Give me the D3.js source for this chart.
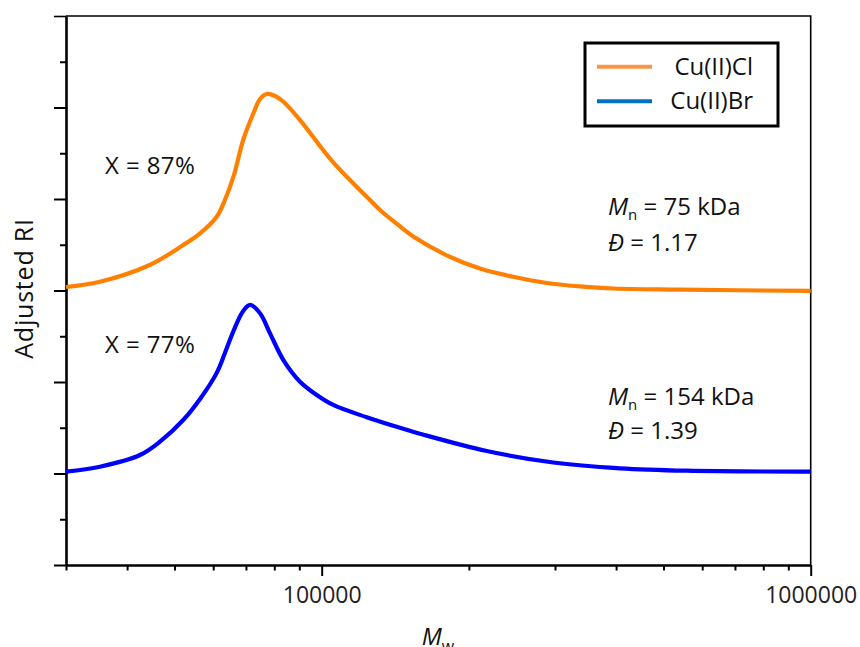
<!DOCTYPE html>
<html><head><meta charset="utf-8">
<script src="https://cdn.jsdelivr.net/npm/d3@7"></script>
<style>
html,body{margin:0;padding:0;background:#fff;}
text{font-family:"Open Sans","Noto Sans",sans-serif;}
</style></head>
<body><svg id="c" width="860" height="647"></svg>
<script>
// ---- data ----
const seriesNames = ["Cu(II)Cl", "Cu(II)Br"];
const clMw = [30000, 35200, 44500, 52100, 56400, 61000, 63400, 66000, 69100, 72500, 74800, 77200, 80300, 83500, 90300, 105600, 123600, 131600, 142300, 153900, 180100, 210700, 246500, 288500, 337500, 394800, 540400, 1000000];
const clRI = [3.038, 3.096, 3.279, 3.497, 3.625, 3.807, 3.989, 4.244, 4.645, 4.937, 5.093, 5.148, 5.126, 5.063, 4.863, 4.400, 4.025, 3.880, 3.730, 3.590, 3.385, 3.240, 3.150, 3.082, 3.045, 3.022, 3.010, 2.995];
const brMw = [30000, 35200, 42500, 46700, 52100, 56400, 61000, 63400, 66000, 69100, 71400, 74800, 78400, 83500, 90300, 97700, 105600, 123600, 144600, 160900, 217500, 297600, 407400, 557700, 1000000];
const brRI = [1.020, 1.074, 1.202, 1.348, 1.585, 1.815, 2.100, 2.317, 2.557, 2.776, 2.842, 2.751, 2.532, 2.240, 2.003, 1.858, 1.749, 1.615, 1.499, 1.426, 1.246, 1.120, 1.057, 1.031, 1.020];
const xMajorTicks = [100000, 1000000];
const xMinorTicks = [30000, 40000, 50000, 60000, 70000, 80000, 90000, 200000, 300000, 400000, 500000, 600000, 700000, 800000, 900000];
const yMajorTicks = [0, 1, 2, 3, 4, 5, 6];
const yMinorTicks = [0.5, 1.5, 2.5, 3.5, 4.5, 5.5];
const xDomain = [30000, 1000000];
const yDomain = [0, 6];

// ---- layout ----
const L = 66, R = 810.7, T = 16, B = 565;
const svg = d3.select("#c");
const x = d3.scaleLog().domain(xDomain).range([L, R]);
const y = d3.scaleLinear().domain(yDomain).range([B, T]);

// frame top/right
svg.append("path").attr("d", `M${L},${T}H${R}V${B}`).attr("fill","none").attr("stroke","#000").attr("stroke-width",1.6);

// x axis
const gx = svg.append("g").attr("transform", `translate(0,${B})`);
gx.call(d3.axisBottom(x).tickValues(xMinorTicks).tickSize(5.5).tickSizeOuter(0).tickFormat(""));
const gx2 = svg.append("g").attr("transform", `translate(0,${B})`);
gx2.call(d3.axisBottom(x).tickValues(xMajorTicks).tickSize(11).tickSizeOuter(0).tickPadding(10.5).tickFormat(d3.format("d")));
[gx, gx2].forEach(g => {
  g.select(".domain").attr("stroke-width", 2.6);
  g.selectAll(".tick line").attr("stroke-width", 2);
});
gx2.selectAll(".tick text").attr("font-size", 23).attr("fill", "#222").attr("font-family", "Open Sans");
gx.select(".domain").remove();

// y axis
const gy = svg.append("g").attr("transform", `translate(${L},0)`);
gy.call(d3.axisLeft(y).tickValues(yMinorTicks).tickSize(6).tickSizeOuter(0).tickFormat(""));
gy.select(".domain").remove();
const gy2 = svg.append("g").attr("transform", `translate(${L},0)`);
gy2.call(d3.axisLeft(y).tickValues(yMajorTicks).tickSize(12).tickSizeOuter(0).tickFormat(""));
gy2.select(".domain").attr("stroke-width", 2.6);
[gy, gy2].forEach(g => g.selectAll(".tick line").attr("stroke-width", 2));
gy2.selectAll(".tick line").filter(d => d === 6).attr("stroke-width", 1.6);

// curves
const line = d3.line().x(d => x(d[0])).y(d => y(d[1])).curve(d3.curveCatmullRom.alpha(0.5));
svg.append("path").datum(clMw.map((m,i)=>[m, clRI[i]])).attr("d", line)
  .attr("fill","none").attr("stroke","#FF8000").attr("stroke-width",4.2).attr("stroke-linejoin","round");
svg.append("path").datum(brMw.map((m,i)=>[m, brRI[i]])).attr("d", line)
  .attr("fill","none").attr("stroke","#0000FF").attr("stroke-width",4.2).attr("stroke-linejoin","round");

// axis titles
svg.append("text").attr("transform","translate(33,288.5) rotate(-90)").attr("text-anchor","middle")
  .attr("font-size",25).attr("letter-spacing",0.8).attr("fill","#111").text("Adjusted RI");
const mw = svg.append("text").attr("x", 438).attr("y", 644.5).attr("text-anchor","middle").attr("font-size",24).attr("fill","#111");
mw.append("tspan").attr("font-style","italic").text("M");
mw.append("tspan").attr("font-size",16).attr("dy",7).text("w");

// legend
const lg = svg.append("g");
lg.append("rect").attr("x",585).attr("y",43).attr("width",193).attr("height",83).attr("fill","#fff").attr("stroke","#000").attr("stroke-width",3);
const legColors = ["#F79646", "#0070C0"];
const legY = [66.7, 101.3];
const legTextY = [74.5, 109.3];
seriesNames.forEach((n,i)=>{
  lg.append("line").attr("x1",597).attr("x2",652).attr("y1",legY[i]).attr("y2",legY[i]).attr("stroke",legColors[i]).attr("stroke-width",4);
  lg.append("text").attr("x",753).attr("y",legTextY[i]).attr("text-anchor","end").attr("font-size",24).attr("fill","#111").text(n);
});

// annotations
const annFont = 24;
svg.append("text").attr("x",105).attr("y",174).attr("font-size",annFont).attr("letter-spacing",0.4).attr("fill","#111").text("X = 87%");
svg.append("text").attr("x",105).attr("y",353.3).attr("font-size",annFont).attr("letter-spacing",0.4).attr("fill","#111").text("X = 77%");
function mnText(yb, val){
  const t = svg.append("text").attr("x",608).attr("y",yb).attr("font-size",annFont).attr("fill","#111");
  t.append("tspan").attr("font-style","italic").text("M");
  t.append("tspan").attr("font-size",15).attr("dy",5).text("n");
  t.append("tspan").attr("dy",-5).text(" = " + val);
}
function dText(yb, val){
  const t = svg.append("text").attr("x",608).attr("y",yb).attr("font-size",annFont).attr("fill","#111");
  t.append("tspan").attr("font-style","italic").text("Đ");
  t.append("tspan").text(" = " + val);
}
mnText(215, "75 kDa");
dText(250.5, "1.17");
mnText(405, "154 kDa");
dText(439.3, "1.39");
</script></body></html>
